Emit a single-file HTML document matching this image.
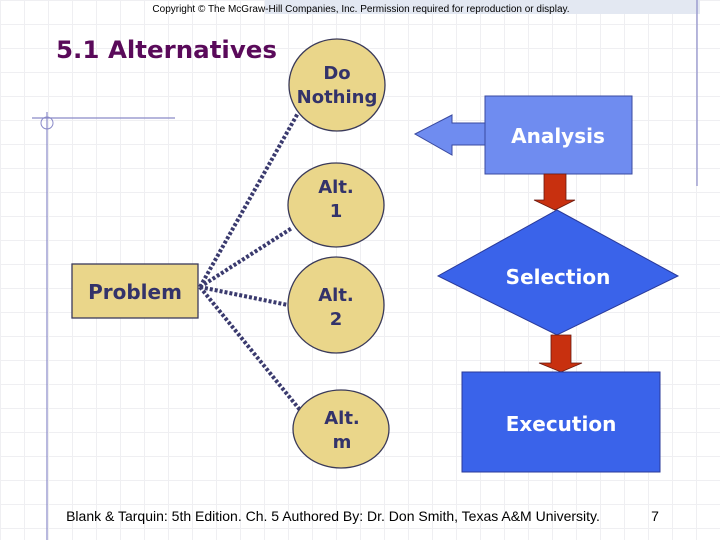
<!DOCTYPE html>
<html><head><style>
body{margin:0}
.wrap{position:relative;width:720px;height:540px;overflow:hidden;background:#fff;
background-image:linear-gradient(to right,#efeff2 1px,transparent 1px),linear-gradient(to bottom,#efeff2 1px,transparent 1px);background-size:24px 24px}
svg{position:absolute;left:0;top:0}
text{font-family:"DejaVu Sans",sans-serif;font-weight:bold}
.n{font-family:"Liberation Sans",sans-serif;font-weight:normal}
</style></head><body><div class="wrap">
<svg width="720" height="540" viewBox="0 0 720 540">
<rect x="265" y="0" width="435" height="14" fill="#e3e8f2"/>
<text class="n" x="361" y="12" font-size="10" text-anchor="middle">Copyright © The McGraw-Hill Companies, Inc. Permission required for reproduction or display.</text>
<text x="56" y="58" font-size="24" fill="#5a0a5a" textLength="221" lengthAdjust="spacingAndGlyphs">5.1 Alternatives</text>
<line x1="32" y1="118" x2="175" y2="118" stroke="#8a8ac8" stroke-width="1.2"/>
<line x1="47" y1="112" x2="47" y2="540" stroke="#8a8ac8" stroke-width="1.2"/>
<circle cx="47" cy="123" r="6" fill="none" stroke="#8a8ac8"/>
<line x1="697" y1="0" x2="697" y2="186" stroke="#8a8ac8" stroke-width="1.2"/>
<g stroke="#3a3a6e" stroke-width="4" stroke-dasharray="3 2" fill="none">
<line x1="200" y1="287" x2="298" y2="113"/>
<line x1="200" y1="287" x2="292" y2="228"/>
<line x1="200" y1="287" x2="288" y2="305"/>
<line x1="200" y1="287" x2="300" y2="410"/>
</g>
<g fill="#ead68a" stroke="#3a3a5a" stroke-width="1.3">
<ellipse cx="337" cy="85" rx="48" ry="46"/>
<ellipse cx="336" cy="205" rx="48" ry="42"/>
<ellipse cx="336" cy="305" rx="48" ry="48"/>
<ellipse cx="341" cy="429" rx="48" ry="39"/>
<rect x="72" y="264" width="126" height="54"/>
</g>
<g fill="#33336a" font-size="18" text-anchor="middle">
<text x="337" y="79">Do</text><text x="337" y="103">Nothing</text>
<text x="336" y="193">Alt.</text><text x="336" y="217">1</text>
<text x="336" y="301">Alt.</text><text x="336" y="325">2</text>
<text x="342" y="424">Alt.</text><text x="342" y="448">m</text>
<text x="135" y="299" font-size="20">Problem</text>
</g>
<rect x="485" y="96" width="147" height="78" fill="#6f8cf0" stroke="#3a4aa0"/>
<polygon points="415,134 452,115 452,123 485,123 485,145 452,145 452,155" fill="#6f8cf0" stroke="#3a4aa0"/>
<text x="558" y="143" font-size="20" fill="#fff" text-anchor="middle">Analysis</text>
<polygon points="544,174 566,174 566,200 575,200 555,210 534,200 544,200" fill="#c8300f" stroke="#6a1a10" stroke-width="0.8"/>
<polygon points="557,210 678,276 557,335 438,276" fill="#3a63ea" stroke="#2a3a9a"/>
<text x="558" y="284" font-size="20" fill="#fff" text-anchor="middle">Selection</text>
<polygon points="551,335 571,335 571,363 582,363 561,372 539,363 551,363" fill="#c8300f" stroke="#6a1a10" stroke-width="0.8"/>
<rect x="462" y="372" width="198" height="100" fill="#3a63ea" stroke="#2a3a9a"/>
<text x="561" y="431" font-size="20" fill="#fff" text-anchor="middle">Execution</text>
<text class="n" x="333" y="521" font-size="14" text-anchor="middle">Blank &amp; Tarquin: 5th Edition. Ch. 5 Authored By:  Dr. Don Smith, Texas A&amp;M University.</text>
<text class="n" x="655" y="521" font-size="14" text-anchor="middle">7</text>
</svg>
</div></body></html>
